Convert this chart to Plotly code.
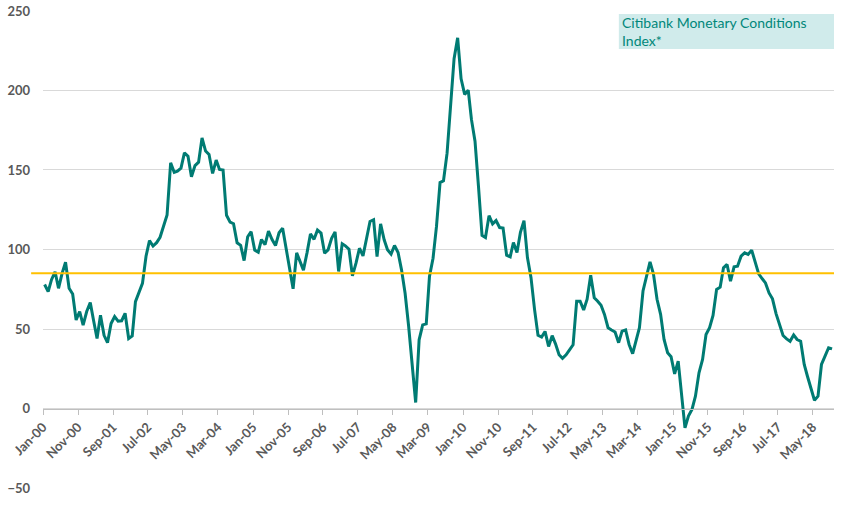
import pandas as pd
import plotly.graph_objects as go

start_month = "2000-01-01"
index_values = [
    78, 73.5, 81, 86, 75.6, 85, 92, 75.6, 72, 55.7,
    61, 52.5, 61, 66.6, 55.7, 44, 58.7, 46, 41.4, 53.5,
    57.8, 55, 55.2, 59.9, 44, 45.6, 67.2, 73.5, 78.7, 95.8,
    105.6, 102.2, 104.3, 107.7, 114.4, 121.7, 154.5, 148.5, 149.3, 151.2,
    160.8, 158.7, 145.7, 152.8, 154.9, 170.2, 161.9, 159.7, 147.8, 156.2,
    150.3, 149.9, 121.5, 117.2, 116.2, 104.2, 102.6, 93, 108, 111.2,
    99.6, 98.3, 106.3, 103, 111.5, 106.3, 102.5, 110.5, 113.4, 100,
    86.4, 75.3, 97.9, 92, 87, 97.9, 109.8, 106.4, 112.2, 110.3,
    97.7, 99.8, 107.1, 111.1, 86.2, 103.6, 102.3, 100.2, 83.4, 91.4,
    100.8, 96, 107.1, 117.6, 118.7, 95.6, 116.1, 106.1, 99.8, 97.1,
    102.5, 98.1, 87.2, 72.5, 51.6, 26.4, 3.8, 43.2, 52.6, 53.2,
    83, 94.5, 114.5, 142.1, 143.2, 160.6, 192, 220, 233.1, 207.3,
    197.5, 200.2, 181.8, 168.1, 139.8, 108.9, 107.5, 121.3, 116.1, 118.2,
    113.8, 113.5, 96.4, 95.4, 104.4, 98.1, 110.8, 118.1, 94.9, 82.3,
    62.2, 46, 44.9, 48.5, 39, 45.8, 40.7, 33.8, 31.6, 33.8,
    36.9, 40.1, 67.5, 67.5, 62, 68.7, 83.8, 69.7, 67.6, 64.9,
    59.2, 50.8, 49.4, 48.1, 41.4, 48.7, 49.4, 40.3, 34.5, 42.4,
    50.8, 73.9, 83.4, 92.2, 84.5, 68.7, 59.2, 43.5, 35.1, 32.6,
    21.8, 29.8, 9.9, -12.2, -4.8, -0.6, 7.8, 22.5, 30.9, 46.6,
    50.8, 58.6, 74.9, 76.3, 88.5, 90.6, 80.1, 89.1, 89.5, 95.8,
    97.9, 96.9, 99.6, 91.6, 84.7, 81.6, 79, 72.7, 69, 59.7,
    52.8, 45.9, 43.8, 42.3, 46.3, 43.4, 42.3, 27.7, 20.3, 13,
    5.2, 7.8, 27.7, 32.9, 38.2, 37.5,
]
threshold = 85
y_ticks = [-50, 0, 50, 100, 150, 200, 250]
title_lines = ["Citibank Monetary Conditions", "Index*"]

months = pd.date_range(start=start_month, periods=len(index_values), freq="MS") + pd.Timedelta(days=14)
end_month = pd.date_range(start=start_month, periods=len(index_values) + 1, freq="MS")[-1]

TEAL = "#007B73"
GOLD = "#FFC000"
GRID = "#D9D9D9"
LABEL = "#595959"

Y_MIN, Y_MAX = -50.6, 250.6
zero_pos = (0 - Y_MIN) / (Y_MAX - Y_MIN)

fig = go.Figure()
fig.add_trace(go.Scatter(
    x=months, y=index_values, mode="lines",
    line=dict(color=TEAL, width=3), showlegend=False, hoverinfo="skip",
))

fig.add_shape(type="line", xref="paper", yref="y", x0=-0.015, x1=1.0,
              y0=threshold, y1=threshold, line=dict(color=GOLD, width=2), layer="above")

# annotation box
fig.add_shape(type="rect", xref="paper", yref="paper", x0=0.728, x1=1.0,
              y0=0.9185, y1=0.9917, fillcolor="#D0EBEB", line=dict(width=0), layer="below")
fig.add_annotation(xref="paper", yref="paper", x=0.730, y=0.955, xanchor="left", yanchor="middle",
                   text="<br>".join(title_lines), showarrow=False, align="left",
                   font=dict(family="Lato", size=14, color="#00877A"))

fig.update_layout(
    width=844, height=506,
    margin=dict(l=43, r=10, t=10, b=17, autoexpand=False),
    paper_bgcolor="white", plot_bgcolor="white",
    font=dict(family="Lato", color=LABEL),
)
fig.update_xaxes(
    type="date", range=[start_month, end_month], automargin=False,
    tick0=start_month, dtick="M10", tickformat="%b-%y",
    tickangle=-45, ticks="outside", ticklen=5, tickcolor="#BFBFBF",
    tickfont=dict(family="Lato", size=13, color=LABEL, weight="bold"),
    showgrid=False, showline=True, linecolor="#BFBFBF", linewidth=1,
    anchor="free", position=zero_pos, zeroline=False,
)
fig.update_yaxes(
    range=[Y_MIN, Y_MAX], tickvals=y_ticks, automargin=False,
    showgrid=True, gridcolor=GRID, gridwidth=1, zeroline=False,
    showline=False, ticks="", ticklabeloverflow="allow",
    tickfont=dict(family="Lato", size=13, color=LABEL, weight="bold"),
    ticklabelstandoff=12,
)

fig.write_html(
    "out.html",
    config={"displayModeBar": False, "staticPlot": True},
    post_script="document.body.style.margin='0';document.body.style.overflow='hidden';",
)
